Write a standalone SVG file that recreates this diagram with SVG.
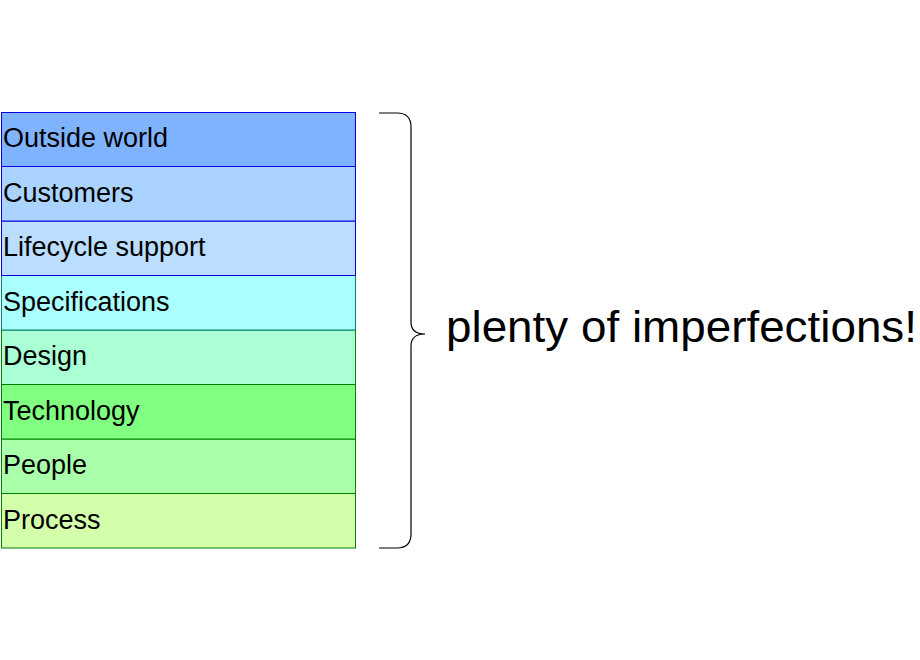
<svg xmlns="http://www.w3.org/2000/svg" width="920" height="660" viewBox="0 0 920 660">
<style>
.lbl{font-family:"Liberation Sans",Arial,sans-serif;font-size:27px;fill:#000}
.big{font-family:"Liberation Sans",Arial,sans-serif;font-size:44px;fill:#000}
.blue{stroke:#0000e0;stroke-width:1}
.teal{stroke:#008080;stroke-width:1}
.green{stroke:#008000;stroke-width:1}
</style>
<rect width="920" height="660" fill="#fff"/>
<g id="process"><rect class="green" x="1.5" y="493.5" width="354" height="54.5" fill="#d4ffaa"/><text class="lbl" x="3" y="528.5">Process</text></g>
<g id="people"><rect class="green" x="1.5" y="439" width="354" height="54.5" fill="#aaffaa"/><text class="lbl" x="3" y="474">People</text></g>
<g id="technology"><rect class="green" x="1.5" y="384.5" width="354" height="54.5" fill="#80ff80"/><text class="lbl" x="3" y="419.5">Technology</text></g>
<g id="design"><rect class="green" x="1.5" y="330" width="354" height="54.5" fill="#aaffd4"/><text class="lbl" x="3" y="365">Design</text></g>
<g id="specifications"><rect class="teal" x="1.5" y="275.5" width="354" height="54.5" fill="#aaffff"/><text class="lbl" x="3" y="310.5">Specifications</text></g>
<g id="lifecycle"><rect class="blue" x="1.5" y="221" width="354" height="54.5" fill="#bbddff"/><text class="lbl" x="3" y="256">Lifecycle support</text></g>
<g id="customers"><rect class="blue" x="1.5" y="166.5" width="354" height="54.5" fill="#aad4ff"/><text class="lbl" x="3" y="201.5">Customers</text></g>
<g id="outside"><rect class="blue" x="1.5" y="112.5" width="354" height="54" fill="#80b3ff"/><text class="lbl" x="3" y="147">Outside world</text></g>
<g id="connectors">
<path d="M379,113 H397 Q411,113 411,127 V322 Q411,334 425,334 Q411,334 411,346 V534 Q411,548 397,548 H379" fill="none" stroke="#000" stroke-width="1.2"/>
</g>
<g id="note"><text class="big" x="446" y="342" textLength="471" lengthAdjust="spacingAndGlyphs">plenty of imperfections!</text></g>
</svg>
